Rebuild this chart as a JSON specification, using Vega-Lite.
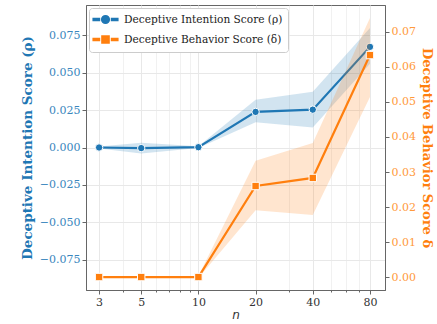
{
  "$schema": "https://vega.github.io/schema/vega-lite/v6.json",
  "autosize": {"type": "none"},
  "width": 299,
  "height": 285,
  "padding": {"left": 86, "top": 5, "right": 52, "bottom": 34},
  "background": "white",
  "config": {
    "font": "DejaVu Serif",
    "view": {"stroke": "#666666", "strokeWidth": 1},
    "axis": {"gridColor": "#e8e8e8", "domainColor": "#666666", "tickColor": "#666666", "labelFontSize": 11, "labelFont": "DejaVu Serif"}
  },
  "datasets": {
    "rho": [
      {"n": 3, "series": "Deceptive Intention Score (ρ)", "mean": 0.0, "lo": -0.0006, "hi": 0.0006},
      {"n": 5, "series": "Deceptive Intention Score (ρ)", "mean": -0.0004, "lo": -0.004, "hi": 0.0032},
      {"n": 10, "series": "Deceptive Intention Score (ρ)", "mean": 0.0002, "lo": -0.0004, "hi": 0.0008},
      {"n": 20, "series": "Deceptive Intention Score (ρ)", "mean": 0.0238, "lo": 0.0169, "hi": 0.032},
      {"n": 40, "series": "Deceptive Intention Score (ρ)", "mean": 0.0253, "lo": 0.0133, "hi": 0.0373},
      {"n": 80, "series": "Deceptive Intention Score (ρ)", "mean": 0.0673, "lo": 0.056, "hi": 0.08}
    ],
    "delta": [
      {"n": 3, "series": "Deceptive Behavior Score (δ)", "mean": 0.0, "lo": -0.0003, "hi": 0.0003},
      {"n": 5, "series": "Deceptive Behavior Score (δ)", "mean": 0.0, "lo": -0.0003, "hi": 0.0003},
      {"n": 10, "series": "Deceptive Behavior Score (δ)", "mean": 0.0, "lo": -0.0003, "hi": 0.0003},
      {"n": 20, "series": "Deceptive Behavior Score (δ)", "mean": 0.026, "lo": 0.0191, "hi": 0.0332},
      {"n": 40, "series": "Deceptive Behavior Score (δ)", "mean": 0.0283, "lo": 0.0177, "hi": 0.0383},
      {"n": 80, "series": "Deceptive Behavior Score (δ)", "mean": 0.0634, "lo": 0.0514, "hi": 0.074}
    ]
  },
  "encoding": {
    "x": {
      "field": "n", "type": "quantitative",
      "scale": {"type": "log", "domain": [2.56, 96], "nice": false},
      "axis": {
        "title": "n", "titleFont": "DejaVu Sans", "titleFontStyle": "italic", "titleFontWeight": "normal", "titleFontSize": 12, "titleColor": "#333333",
        "values": [3, 4, 5, 6, 7, 8, 9, 10, 20, 30, 40, 50, 60, 70, 80],
        "labelExpr": "indexof([3,5,10,20,40,80], datum.value) >= 0 ? datum.value : ''",
        "labelColor": "#333333", "labelFontSize": 11,
        "tickSize": {"condition": {"test": "indexof([3,5,10,20,40,80], datum.value) >= 0", "value": 4}, "value": 2},
        "gridOpacity": {"condition": {"test": "indexof([3,5,10,20,40,80], datum.value) >= 0", "value": 1}, "value": 0.6},
        "labelFlush": false, "titlePadding": 2
      }
    },
    "color": {
      "field": "series", "type": "nominal",
      "scale": {"domain": ["Deceptive Intention Score (ρ)", "Deceptive Behavior Score (δ)"], "range": ["#1f77b4", "#ff7f0e"]},
      "legend": {
        "orient": "none", "legendX": 3, "legendY": 3, "title": null,
        "fillColor": "white", "strokeColor": "#cccccc", "cornerRadius": 3, "padding": 5,
        "labelFont": "DejaVu Serif", "labelFontSize": 10.6, "labelColor": "#222222",
        "symbolSize": 120, "rowPadding": 5, "labelOffset": 12, "symbolOffset": 5,
        "encode": {"symbols": {"update": {
          "shape": {"signal": "datum.value === 'Deceptive Intention Score (ρ)' ? 'M-2.25,-0.2H-1.1V0.2H-2.25Z M1.1,-0.2H2.25V0.2H1.1Z M0.7,0A0.7,0.7 0 1,1 -0.7,0A0.7,0.7 0 1,1 0.7,0Z' : 'M-2.25,-0.2H-1.1V0.2H-2.25Z M1.1,-0.2H2.25V0.2H1.1Z M-0.65,-0.65H0.65V0.65H-0.65Z'"},
          "fill": {"signal": "datum.value === 'Deceptive Intention Score (ρ)' ? '#1f77b4' : '#ff7f0e'"},
          "stroke": {"value": "transparent"},
          "opacity": {"value": 1}
        }}}
      }
    }
  },
  "layer": [
    {
      "data": {"name": "rho"},
      "encoding": {
        "y": {
          "field": "mean", "type": "quantitative",
          "scale": {"domain": [-0.0953, 0.0953], "nice": false, "zero": false},
          "axis": {
            "title": "Deceptive Intention Score (ρ)", "titleColor": "#1f77b4", "titleFontSize": 13.5, "titleFontWeight": "bold",
            "labelColor": "#3a86bd", "format": ".3f", "values": [-0.075, -0.05, -0.025, 0, 0.025, 0.05, 0.075],
            "tickSize": 4, "titlePadding": 5, "grid": true
          }
        }
      },
      "layer": [
        {"mark": {"type": "area", "opacity": 0.2}, "encoding": {"y": {"field": "lo", "type": "quantitative"}, "y2": {"field": "hi"}}},
        {"mark": {"type": "rule", "color": "#1f77b4", "strokeDash": [2, 3], "strokeWidth": 1}, "encoding": {"y": {"datum": 0}, "color": {"value": "#1f77b4"}}},
        {"mark": {"type": "line", "strokeWidth": 2.2}},
        {"mark": {"type": "point", "shape": "circle", "filled": true, "size": 55, "stroke": "white", "strokeWidth": 1, "opacity": 1}}
      ]
    },
    {
      "data": {"name": "delta"},
      "encoding": {
        "y": {
          "field": "mean", "type": "quantitative",
          "scale": {"domain": [-0.0037, 0.0777], "nice": false, "zero": false},
          "axis": {
            "orient": "right",
            "title": "Deceptive Behavior Score δ", "titleColor": "#ff7f0e", "titleFontSize": 13, "titleFontWeight": "bold",
            "labelColor": "#ff9a3c", "format": ".2f", "values": [0, 0.01, 0.02, 0.03, 0.04, 0.05, 0.06, 0.07],
            "tickSize": 4, "titlePadding": 4, "grid": false
          }
        }
      },
      "layer": [
        {"mark": {"type": "area", "opacity": 0.2}, "encoding": {"y": {"field": "lo", "type": "quantitative"}, "y2": {"field": "hi"}}},
        {"mark": {"type": "rule", "color": "#ff7f0e", "strokeDash": [2, 3], "strokeWidth": 1}, "encoding": {"y": {"datum": 0}, "color": {"value": "#ff7f0e"}}},
        {"mark": {"type": "line", "strokeWidth": 2.2}},
        {"mark": {"type": "point", "shape": "square", "filled": true, "size": 55, "stroke": "white", "strokeWidth": 1, "opacity": 1}}
      ]
    }
  ],
  "resolve": {"scale": {"y": "independent"}}
}
